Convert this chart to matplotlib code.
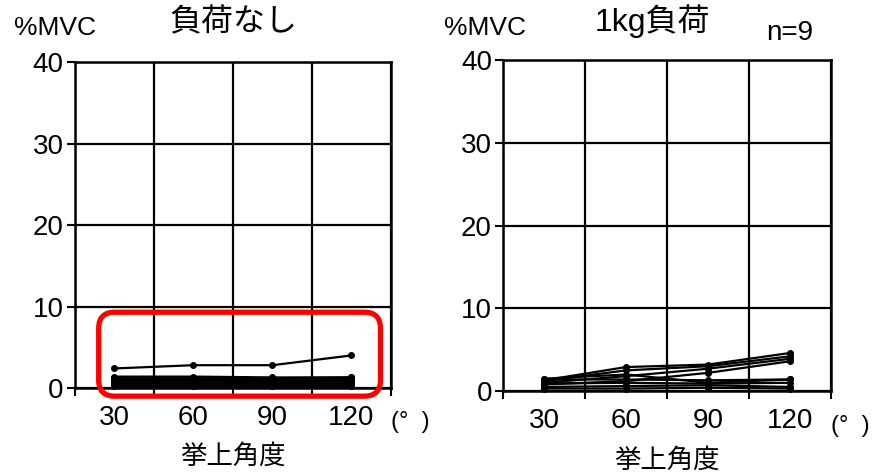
import matplotlib
matplotlib.use("Agg")
import matplotlib.pyplot as plt
from matplotlib.patches import FancyBboxPatch
from matplotlib.transforms import IdentityTransform

plt.rcParams['font.family'] = ['Liberation Sans', 'Noto Sans CJK JP']

# elevation angles (deg) and %MVC for each of the 9 subjects
angles = [30, 60, 90, 120]

no_load = [
    [2.4, 2.8, 2.8, 4.0],
    [1.4, 1.4, 1.3, 1.3],
    [1.2, 1.2, 1.2, 1.3],
    [1.0, 1.0, 1.1, 1.2],
    [0.9, 0.9, 0.9, 1.0],
    [0.7, 0.8, 0.7, 0.8],
    [0.5, 0.6, 0.5, 0.6],
    [0.4, 0.4, 0.4, 0.4],
    [0.3, 0.3, 0.3, 0.3],
]

load_1kg = [
    [1.3, 2.9, 3.2, 4.6],
    [1.2, 2.5, 3.0, 4.2],
    [1.0, 1.8, 2.7, 3.9],
    [0.8, 1.2, 2.2, 3.6],
    [1.5, 2.0, 1.0, 1.4],
    [1.4, 1.4, 1.3, 1.4],
    [0.9, 1.0, 0.9, 1.0],
    [0.5, 0.6, 0.7, 0.5],
    [0.3, 0.3, 0.4, 0.3],
]

y_ticks = [0, 10, 20, 30, 40]
x_labels = ['30', '60', '90', '120']
grid_x = [15, 45, 75, 105, 135]

fig = plt.figure(figsize=(8.81, 4.74), dpi=100)
ax1 = fig.add_axes([0.0851, 0.1814, 0.3587, 0.6878])
ax2 = fig.add_axes([0.5710, 0.1750, 0.3723, 0.6983])


def style_panel(ax, series):
    for s in series:
        ax.plot(angles, s, color='black', lw=1.6, marker='o', ms=4,
                clip_on=False, zorder=3)
    ax.set_xlim(15, 135)
    ax.set_ylim(0, 40)
    ax.set_yticks(y_ticks)
    ax.set_yticklabels([str(v) for v in y_ticks], fontsize=20)
    # gridline positions carry the tick marks, angle labels sit between them
    ax.set_xticks(grid_x)
    ax.set_xticklabels([''] * len(grid_x))
    ax.set_xticks(angles, minor=True)
    ax.set_xticklabels(x_labels, minor=True, fontsize=20)
    ax.tick_params(axis='x', which='minor', length=0, pad=12)
    ax.tick_params(axis='x', which='major', length=6, width=1.5,
                   direction='out')
    ax.tick_params(axis='y', length=6, width=1.5, pad=2)
    ax.grid(True, which='major', color='black', lw=1.6)
    for sp in ax.spines.values():
        sp.set_linewidth(1.8)
    ax.text(1.0, -0.105, '(°  )', transform=ax.transAxes, fontsize=17,
            ha='left', va='center')
    ax.text(0.5, -0.21, '挙上角度', transform=ax.transAxes, fontsize=19,
            ha='center', va='center')


style_panel(ax1, no_load)
style_panel(ax2, load_1kg)

fig.text(14 / 881, 1 - 28 / 474, '%MVC', fontsize=19, va='center')
fig.text(233 / 881, 1 - 23 / 474, '負荷なし', fontsize=23, ha='center',
         va='center')
fig.text(444 / 881, 1 - 28 / 474, '%MVC', fontsize=19, va='center')
fig.text(652 / 881, 1 - 21 / 474, '1kg負荷', fontsize=23, ha='center',
         va='center')
fig.text(790 / 881, 1 - 33 / 474, 'n=9', fontsize=20, ha='center',
         va='center')

# red highlight box round the low values of the no-load panel
x0, y0 = ax1.transData.transform((24, -1.0))
x1, y1 = ax1.transData.transform((131, 9.3))
box = FancyBboxPatch((x0, y0), x1 - x0, y1 - y0,
                     boxstyle='round,pad=0,rounding_size=16',
                     transform=IdentityTransform(), fill=False,
                     edgecolor='#ff0000', lw=3.8, zorder=10)
fig.patches.append(box)

fig.savefig('out.png', dpi=100)
